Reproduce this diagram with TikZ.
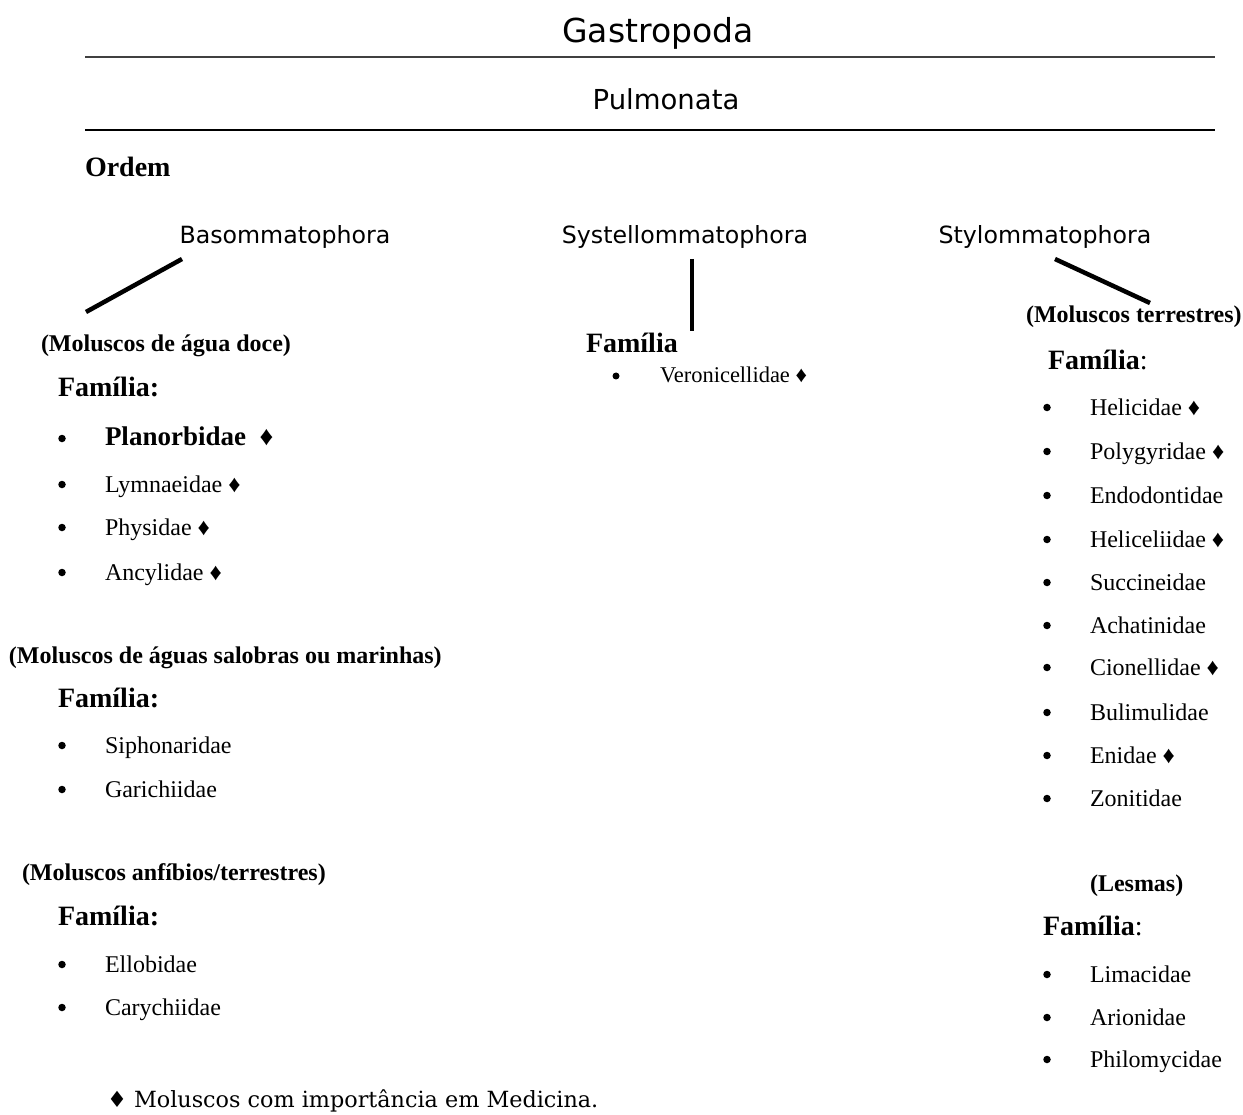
\documentclass[tikz,border=0pt]{standalone}
\usepackage{fontspec}
\setmainfont{Liberation Serif}
\newfontfamily\comicf{DejaVu Sans}
\newfontfamily\footf{DejaVu Serif}
\begin{document}
\begin{tikzpicture}[x=1pt,y=-1pt,
  every node/.style={inner sep=0pt,outer sep=0pt},
  comic/.style={font=\comicf\fontsize{23.7}{28}\selectfont,anchor=base},
  item/.style={font=\fontsize{24}{28}\selectfont,anchor=base west},
  bul/.style={circle,fill=black,minimum size=7.5pt},
  fam/.style={font=\fontsize{28}{32}\selectfont\bfseries,anchor=base west},
  paren/.style={font=\fontsize{24}{28}\selectfont\bfseries,anchor=base west},
  rule/.style={line width=2pt},
  branch/.style={line width=4.5pt}]
\useasboundingbox (0,0) rectangle (1243,1115);
% titles
\node[font=\comicf\fontsize{33}{38}\selectfont,anchor=base] (gastro) at (658,43) {Gastropoda};
\coordinate (r1a) at (85,57.5); \coordinate (r1b) at (1215,57.5);
\draw[rule,black!75] (r1a) -- (r1b);
\node[font=\comicf\fontsize{27.5}{32}\selectfont,anchor=base] (pulmo) at (666,110) {Pulmonata};
\coordinate (r2a) at (85,130.5); \coordinate (r2b) at (1215,130.5);
\draw[rule] (r2a) -- (r2b);
\node[fam] (ordem) at (85,177) {Ordem};
% orders
\node[comic] (baso) at (285,244) {Basommatophora};
\node[comic] (syst) at (685,244) {Systellommatophora};
\node[comic] (stylo) at (1045,244) {Stylommatophora};
\coordinate (c1a) at (182,259); \coordinate (c1b) at (86,312);
\coordinate (c2a) at (692,259); \coordinate (c2b) at (692,331);
\coordinate (c3a) at (1055,259); \coordinate (c3b) at (1150,303);
\draw[branch] (c1a) -- (c1b);
\draw[branch] (c2a) -- (c2b);
\draw[branch] (c3a) -- (c3b);
% left column
\node[paren] (p1) at (41,352) {(Moluscos de água doce)};
\node[fam] (f1) at (58,396) {Família:};
\node[bul] (b1) at (62,438.5) {};
\node[font=\fontsize{27}{30}\selectfont\bfseries,anchor=base west] (t1) at (105,446) {Planorbidae~~♦};
\foreach \n/\y/\t in {2/492/Lymnaeidae ♦,3/535/Physidae ♦,4/580/Ancylidae ♦}{
  \node[bul] (b\n) at (62,\y-7.5) {};
  \node[item] (t\n) at (105,\y) {\t};
}
\node[paren] (p2) at (9,663) {(Moluscos de águas salobras ou marinhas)};
\node[fam] (f2) at (58,707) {Família:};
\foreach \n/\y/\t in {5/753/Siphonaridae,6/797/Garichiidae}{
  \node[bul] (b\n) at (62,\y-7.5) {};
  \node[item] (t\n) at (105,\y) {\t};
}
\node[paren] (p3) at (22,880) {(Moluscos anfíbios/terrestres)};
\node[fam] (f3) at (58,925) {Família:};
\foreach \n/\y/\t in {7/972/Ellobidae,8/1015/Carychiidae}{
  \node[bul] (b\n) at (62,\y-7.5) {};
  \node[item] (t\n) at (105,\y) {\t};
}
% center column
\node[fam] (f4) at (586,353) {Família};
\node[bul,minimum size=7pt] (b9) at (616,376) {};
\node[font=\fontsize{22.5}{26}\selectfont,anchor=base west] (t9) at (660,383) {Veronicellidae ♦};
% right column
\node[paren] (p4) at (1026,323) {(Moluscos terrestres)};
\node[fam] (f5) at (1048,370) {Família\mdseries:};
\foreach \n/\y/\t in {10/415/Helicidae ♦,11/459/Polygyridae ♦,12/503/Endodontidae,13/547/Heliceliidae ♦,14/590/Succineidae,15/633/Achatinidae,16/675/Cionellidae ♦,17/720/Bulimulidae,18/763/Enidae ♦,19/806/Zonitidae}{
  \node[bul] (b\n) at (1047,\y-7.5) {};
  \node[item] (t\n) at (1090,\y) {\t};
}
\node[paren] (p5) at (1090,891) {(Lesmas)};
\node[fam] (f6) at (1043,935) {Família\mdseries:};
\foreach \n/\y/\t in {20/982/Limacidae,21/1025/Arionidae,22/1067/Philomycidae}{
  \node[bul] (b\n) at (1047,\y-7.5) {};
  \node[item] (t\n) at (1090,\y) {\t};
}
% footnote
\node[font=\footf\fontsize{22.3}{26}\selectfont,anchor=base west] (foot) at (107,1107) {♦ Moluscos com importância em Medicina.};
\end{tikzpicture}
\end{document}
